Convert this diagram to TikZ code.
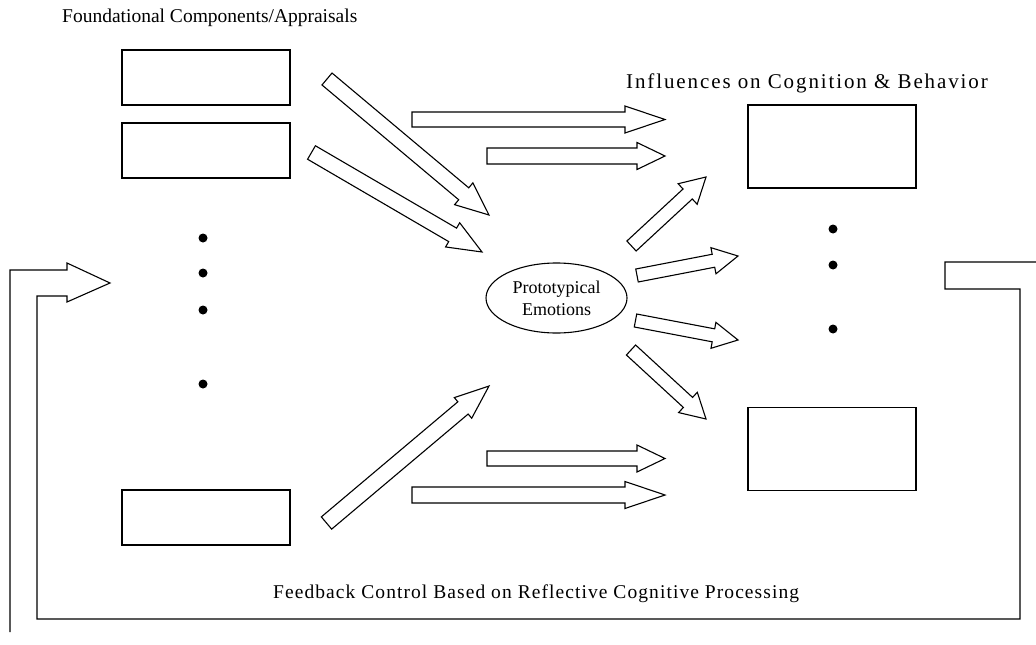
\documentclass[tikz,border=0pt]{standalone}
\usepackage{fontspec}
\setmainfont{Liberation Serif}
\usetikzlibrary{calc,shapes.geometric}

% hollow block arrow: #1 tail centre, #2 tip, #3 shaft half width,
% #4 head half width, #5 head length
\newcommand\blockarrow[5]{%
  \coordinate (ba-h) at ($(#2)!#5!(#1)$);
  \draw[blockline]
    ($(#1)!#3!90:(#2)$) -- ($(ba-h)!#3!90:(#2)$) -- ($(ba-h)!#4!90:(#2)$)
    -- (#2)
    -- ($(ba-h)!#4!-90:(#2)$) -- ($(ba-h)!#3!-90:(#2)$) -- ($(#1)!#3!-90:(#2)$)
    -- cycle;}

\begin{document}
\begin{tikzpicture}[x=1pt,y=-1pt,
  blockline/.style={draw=black,line width=1.1pt,line join=miter,fill=white},
  compbox/.style={draw=black,line width=1.1pt,minimum width=168pt,minimum height=55pt,inner sep=0pt},
  effbox/.style={draw=black,line width=1.1pt,minimum width=168pt,minimum height=83pt,inner sep=0pt},
  bullet/.style={circle,fill=black,inner sep=0pt,minimum size=9pt},
  heading/.style={anchor=base west,inner sep=0pt,font=\fontsize{19.5}{22}\selectfont},
  feedline/.style={draw=black,line width=1.1pt,line join=miter}]
\useasboundingbox (0,0) rectangle (1036,645);

% headings
\node[heading] (h1) at (62,22) {Foundational Components/Appraisals};
\node[heading,font=\fontsize{21}{24}\selectfont] (h2) at (626,88)
  {\addfontfeatures{LetterSpace=9}Influences on Cognition \& Behavior};
\node[heading] (h3) at (273,598)
  {\addfontfeatures{LetterSpace=5.5}Feedback Control Based on Reflective Cognitive Processing};

% component boxes (left)
\node[compbox] (c1) at (206,77.5) {};
\node[compbox] (c2) at (206,150.5) {};
\node[compbox] (c3) at (206,517.5) {};
\node[bullet] (l1) at (203,238) {};
\node[bullet] (l2) at (203,273) {};
\node[bullet] (l3) at (203,310) {};
\node[bullet] (l4) at (203,384) {};

% influence boxes (right)
\node[effbox] (e1) at (832,146.5) {};
\node[effbox] (e2) at (832,449) {};
\node[bullet] (r1) at (833,229) {};
\node[bullet] (r2) at (833,265) {};
\node[bullet] (r3) at (833,329) {};

% central emotion node
\node[ellipse,draw=black,line width=1.1pt,minimum width=141pt,minimum height=70pt,
      inner sep=0pt,align=center,font=\fontsize{18}{22}\selectfont] (emo) at (556.5,298)
      {Prototypical\\Emotions};

% arrow end points
\coordinate (d1t) at (327,79);    \coordinate (d1h) at (489,215);
\coordinate (d2t) at (311.5,152.5); \coordinate (d2h) at (482,252);
\coordinate (d3t) at (326.5,523); \coordinate (d3h) at (489,386);
\coordinate (a1t) at (412,119.5); \coordinate (a1h) at (665,119.5);
\coordinate (a2t) at (487,156);   \coordinate (a2h) at (665,156);
\coordinate (a3t) at (487,458.5); \coordinate (a3h) at (665,458.5);
\coordinate (a4t) at (412,495);   \coordinate (a4h) at (665,495);
\coordinate (q1t) at (631.5,246); \coordinate (q1h) at (706,177);
\coordinate (q2t) at (637,275.5); \coordinate (q2h) at (738,256);
\coordinate (q3t) at (635.5,320.5); \coordinate (q3h) at (738,340);
\coordinate (q4t) at (631,350);   \coordinate (q4h) at (706,419);

% appraisals feeding the emotion
\blockarrow{d1t}{d1h}{7.8pt}{14.2pt}{33pt}
\blockarrow{d2t}{d2h}{7.8pt}{14pt}{34pt}
\blockarrow{d3t}{d3h}{8pt}{13.5pt}{34pt}

% direct influences
\blockarrow{a1t}{a1h}{7.5pt}{13.5pt}{40pt}
\blockarrow{a2t}{a2h}{8pt}{13.5pt}{28pt}
\blockarrow{a3t}{a3h}{7.5pt}{13.5pt}{28pt}
\blockarrow{a4t}{a4h}{8pt}{13.5pt}{40pt}

% emotion effects
\blockarrow{q1t}{q1h}{6.8pt}{14pt}{25pt}
\blockarrow{q2t}{q2h}{6.6pt}{13.3pt}{25pt}
\blockarrow{q3t}{q3h}{6.6pt}{13.2pt}{25pt}
\blockarrow{q4t}{q4h}{6.8pt}{13.8pt}{24.5pt}

% feedback loop arrow
\coordinate (fbend) at (10,632);
\coordinate (fbtip) at (110,283);
\coordinate (fbexit) at (1036,262);
\draw[feedline] (fbend) -- (10,270) -- (67,270) -- (67,263) -- (fbtip)
  -- (67,302) -- (67,296) -- (37,296) -- (37,619) -- (1020,619)
  -- (1020,289) -- (945,289) -- (945,262) -- (fbexit);
\end{tikzpicture}
\end{document}
